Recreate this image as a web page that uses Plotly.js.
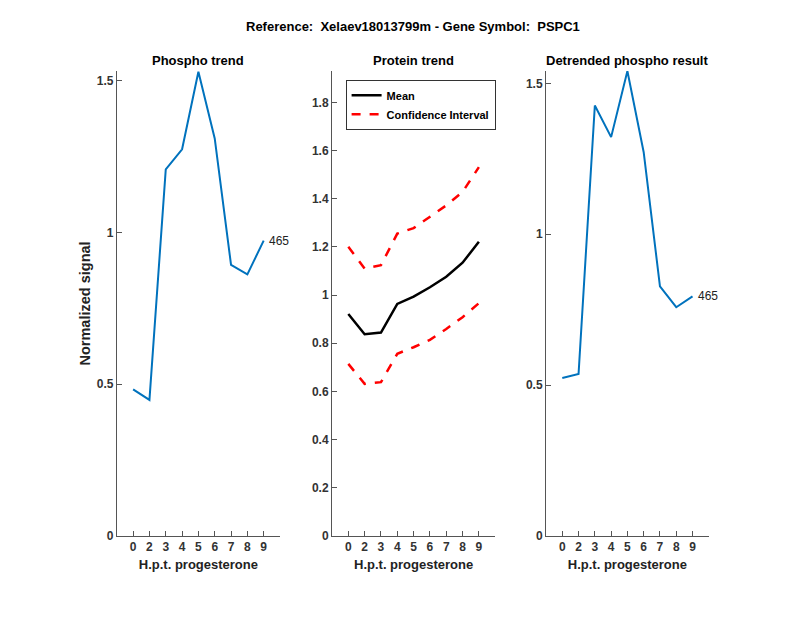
<!DOCTYPE html>
<html>
<head>
<meta charset="utf-8">
<script src="https://cdn.plot.ly/plotly-3.0.1.min.js"></script>
<style>html,body{margin:0;padding:0;background:#fff;}#chart{width:800px;height:618px;}</style>
</head>
<body>
<div id="chart"></div>
<script>
const categories = ['0','2','3','4','5','6','7','8','9'];
const phospho = [0.483, 0.448, 1.208, 1.274, 1.530, 1.310, 0.893, 0.862, 0.973];
const proteinMean = [0.921, 0.837, 0.844, 0.963, 0.993, 1.032, 1.076, 1.134, 1.221];
const proteinUpper = [1.200, 1.110, 1.124, 1.255, 1.278, 1.324, 1.372, 1.428, 1.531];
const proteinLower = [0.714, 0.631, 0.638, 0.756, 0.783, 0.814, 0.859, 0.908, 0.966];
const detrended = [0.523, 0.537, 1.427, 1.322, 1.541, 1.272, 0.827, 0.758, 0.794];
const pointLabel = '465';

const pos = categories.map((c, i) => i + 1);
const FONT = 'Liberation Sans, Arial, sans-serif';
const blue = '#0072BD';

const traces = [
  {x: pos, y: phospho, xaxis: 'x', yaxis: 'y', mode: 'lines', line: {color: blue, width: 2}, showlegend: false},
  {x: pos, y: proteinMean, xaxis: 'x2', yaxis: 'y2', mode: 'lines', name: 'Mean', line: {color: '#000', width: 2.5}},
  {x: pos, y: proteinUpper, xaxis: 'x2', yaxis: 'y2', mode: 'lines', name: 'Confidence Interval', line: {color: '#ff0000', width: 2.5, dash: 'dash'}},
  {x: pos, y: proteinLower, xaxis: 'x2', yaxis: 'y2', mode: 'lines', name: 'Confidence Interval', showlegend: false, line: {color: '#ff0000', width: 2.5, dash: 'dash'}},
  {x: pos, y: detrended, xaxis: 'x3', yaxis: 'y3', mode: 'lines', line: {color: blue, width: 2}, showlegend: false}
];

function xax(domain, anchor) {
  return {
    domain: domain, anchor: anchor, range: [0, 10],
    tickvals: pos, ticktext: categories,
    ticks: 'inside', ticklen: 5, tickcolor: '#555', tickwidth: 1,
    showline: true, linecolor: '#555', linewidth: 1, mirror: false,
    showgrid: false, zeroline: false,
    tickfont: {family: FONT, size: 12, color: '#333', weight: 'bold'},
    title: {text: 'H.p.t. progesterone', font: {family: FONT, size: 13, color: '#222', weight: 'bold'}, standoff: 6}
  };
}
function yax(range, tickvals, anchor, title) {
  const a = {
    domain: [0.133, 0.885], anchor: anchor, range: range,
    tickvals: tickvals, ticktext: tickvals.map(v => String(v)),
    ticks: 'inside', ticklen: 5, tickcolor: '#555', tickwidth: 1,
    showline: true, linecolor: '#555', linewidth: 1,
    showgrid: false, zeroline: false,
    tickfont: {family: FONT, size: 12, color: '#333', weight: 'bold'}
  };
  if (title) a.title = {text: title, font: {family: FONT, size: 14.5, color: '#222', weight: 'bold'}, standoff: 2};
  return a;
}

const layout = {
  width: 800, height: 618,
  margin: {l: 0, r: 0, t: 0, b: 0},
  paper_bgcolor: '#fff', plot_bgcolor: '#fff',
  font: {family: FONT},
  xaxis: xax([0.146, 0.35], 'y'),
  yaxis: yax([0, 1.532], [0, 0.5, 1, 1.5], 'x', 'Normalized signal'),
  xaxis2: xax([0.415, 0.619], 'y2'),
  yaxis2: yax([0, 1.93], [0, 0.2, 0.4, 0.6, 0.8, 1, 1.2, 1.4, 1.6, 1.8], 'x2'),
  xaxis3: xax([0.6825, 0.886], 'y3'),
  yaxis3: yax([0, 1.541], [0, 0.5, 1, 1.5], 'x3'),
  showlegend: true,
  legend: {
    x: 0.432, y: 0.871, xanchor: 'left', yanchor: 'top',
    bgcolor: '#fff', bordercolor: '#333', borderwidth: 1,
    font: {family: FONT, size: 11, color: '#000', weight: 'bold'},
    tracegroupgap: 0, itemwidth: 30
  },
  annotations: [
    {text: 'Reference:  Xelaev18013799m - Gene Symbol:  PSPC1', xref: 'paper', yref: 'paper', x: 0.516, y: 0.957, xanchor: 'center', yanchor: 'middle', showarrow: false, font: {family: FONT, size: 13, color: '#000', weight: 'bold'}},
    {text: 'Phospho trend', xref: 'paper', yref: 'paper', x: 0.248, y: 0.902, xanchor: 'center', yanchor: 'middle', showarrow: false, font: {family: FONT, size: 13, color: '#000', weight: 'bold'}},
    {text: 'Protein trend', xref: 'paper', yref: 'paper', x: 0.517, y: 0.902, xanchor: 'center', yanchor: 'middle', showarrow: false, font: {family: FONT, size: 13, color: '#000', weight: 'bold'}},
    {text: 'Detrended phospho result', xref: 'paper', yref: 'paper', x: 0.784, y: 0.902, xanchor: 'center', yanchor: 'middle', showarrow: false, font: {family: FONT, size: 13, color: '#000', weight: 'bold'}},
    {text: pointLabel, xref: 'x', yref: 'y', x: pos[pos.length - 1] + 0.2, y: phospho[phospho.length - 1], xanchor: 'left', yanchor: 'middle', showarrow: false, font: {family: FONT, size: 12, color: '#222'}},
    {text: pointLabel, xref: 'x3', yref: 'y3', x: pos[pos.length - 1] + 0.2, y: detrended[detrended.length - 1], xanchor: 'left', yanchor: 'middle', showarrow: false, font: {family: FONT, size: 12, color: '#222'}}
  ]
};

Plotly.newPlot('chart', traces, layout, {displayModeBar: false, staticPlot: true});
</script>
</body>
</html>
